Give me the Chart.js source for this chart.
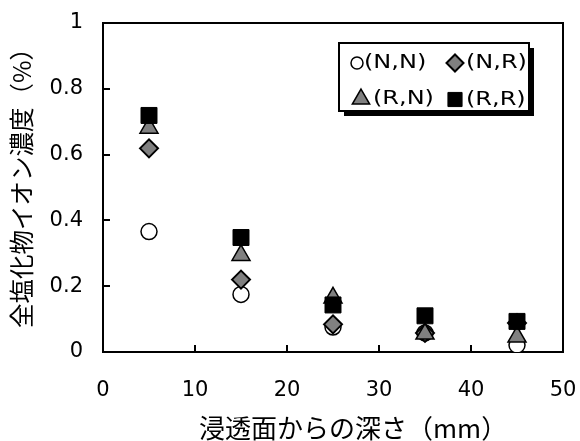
<!DOCTYPE html>
<html>
<head>
<meta charset="utf-8">
<script src="https://cdn.jsdelivr.net/npm/chart.js@4/dist/chart.umd.min.js"></script>
<style>
  html, body { margin: 0; padding: 0; background: #fff; }
  #wrap { width: 580px; height: 441px; }
</style>
</head>
<body>
<div id="wrap"><canvas id="chart" width="580" height="441"></canvas></div>
<script>
// データ
const depths = [5, 15, 25, 35, 45];
const seriesNames = ['(N,N)', '(N,R)', '(R,N)', '(R,R)'];
const valuesNN = [0.366, 0.175, 0.076, 0.058, 0.021];
const valuesNR = [0.619, 0.220, 0.084, 0.058, 0.088];
const valuesRN = [0.681, 0.294, 0.165, 0.055, 0.046];
const valuesRR = [0.719, 0.348, 0.143, 0.110, 0.093];
const xTicks = [0, 10, 20, 30, 40, 50];
const yTicks = [0, 0.2, 0.4, 0.6, 0.8, 1];
const xTitle = '浸透面からの深さ（mm）';
const yTitle = '全塩化物イオン濃度（%）';

const toPoints = vals => vals.map((v, i) => ({ x: depths[i], y: v }));

// マーカーの見た目
const markers = [
    { pointStyle: 'circle',   radius: 8,    bg: '#ffffff', border: 1.5, lr: 6 },
    { pointStyle: 'rectRot',  radius: 9,    bg: '#808080', border: 2,   lr: 8.5 },
    { pointStyle: 'triangle', radius: 10.4, bg: '#808080', border: 1.5, lr: 10 },
    { pointStyle: 'rect',     radius: 11.3, bg: '#000000', border: 1,   lr: 10 }
];
const allValues = [valuesNN, valuesNR, valuesRN, valuesRR];

const datasets = allValues.map((vals, i) => ({
    label: seriesNames[i],
    data: toPoints(vals),
    pointStyle: markers[i].pointStyle,
    pointRadius: markers[i].radius,
    pointHoverRadius: markers[i].radius,
    backgroundColor: markers[i].bg,
    borderColor: '#000000',
    borderWidth: markers[i].border,
    order: 3 - i
}));

// 枠・目盛り・軸タイトル・凡例
const framePlugin = {
    id: 'frame',
    beforeDatasetsDraw(chart) {
        const { ctx, chartArea: a, scales: { x, y } } = chart;
        ctx.save();
        ctx.strokeStyle = '#000';
        ctx.lineWidth = 2;
        ctx.strokeRect(a.left, a.top, a.right - a.left, a.bottom - a.top);
        ctx.beginPath();
        yTicks.forEach(v => {
            const py = Math.round(y.getPixelForValue(v));
            ctx.moveTo(a.left, py);
            ctx.lineTo(a.left + 7, py);
        });
        xTicks.forEach(v => {
            const px = Math.round(x.getPixelForValue(v));
            ctx.moveTo(px, a.bottom);
            ctx.lineTo(px, a.bottom - 7);
        });
        ctx.stroke();
        ctx.restore();
    },
    afterDraw(chart) {
        const ctx = chart.ctx;
        ctx.save();
        ctx.fillStyle = '#000';
        ctx.textAlign = 'left';
        ctx.textBaseline = 'middle';

        // x軸タイトル
        ctx.font = '26px "Noto Sans CJK JP"';
        ctx.fillText(xTitle, 199, 428);

        // y軸タイトル
        ctx.save();
        ctx.font = '24.5px "Noto Sans CJK JP"';
        ctx.translate(22, 328);
        ctx.rotate(-Math.PI / 2);
        ctx.fillText(yTitle, 0, 0);
        ctx.restore();

        // 凡例
        ctx.fillStyle = '#000';
        ctx.fillRect(344, 48, 190, 68);
        ctx.fillStyle = '#fff';
        ctx.fillRect(339, 43, 190, 68);
        ctx.strokeStyle = '#000';
        ctx.lineWidth = 2;
        ctx.strokeRect(339, 43, 190, 68);

        const pos = [[357, 63], [455, 63], [361, 99], [455, 99.5]];
        const textX = [364, 466, 373, 466];
        seriesNames.forEach((name, i) => {
            const m = markers[i];
            ctx.fillStyle = m.bg;
            ctx.strokeStyle = '#000';
            ctx.lineWidth = m.border;
            Chart.helpers.drawPoint(ctx, {
                pointStyle: m.pointStyle, radius: m.lr, rotation: 0, borderWidth: m.border
            }, pos[i][0], pos[i][1]);

            ctx.save();
            ctx.fillStyle = '#000';
            ctx.font = '20px "DejaVu Sans"';
            ctx.textAlign = 'left';
            ctx.translate(textX[i], pos[i][1]);
            ctx.scale(1.2, 1);
            ctx.fillText(name, 0, 0);
            ctx.restore();
        });
        ctx.restore();
    }
};

const tickFont = { family: '"DejaVu Sans"', size: 21 };
const fmt = v => String(+Number(v).toFixed(1));

new Chart(document.getElementById('chart'), {
    type: 'scatter',
    data: { datasets: datasets },
    options: {
        responsive: false,
        animation: false,
        layout: { padding: { top: 23, right: 17, left: 0, bottom: 0 } },
        plugins: {
            legend: { display: false },
            tooltip: { enabled: false }
        },
        scales: {
            x: {
                type: 'linear',
                min: 0,
                max: 50,
                afterBuildTicks: s => { s.ticks = xTicks.map(v => ({ value: v })); },
                afterFit: s => { s.height = 89; s.paddingLeft = 0; s.paddingRight = 0; },
                grid: { display: false, drawTicks: false },
                border: { display: false },
                ticks: { color: '#000', font: tickFont, padding: 26, maxRotation: 0, callback: fmt }
            },
            y: {
                type: 'linear',
                min: 0,
                max: 1,
                afterBuildTicks: s => { s.ticks = yTicks.map(v => ({ value: v })); },
                afterFit: s => { s.width = 103; s.paddingTop = 0; s.paddingBottom = 0; },
                grid: { display: false, drawTicks: false },
                border: { display: false },
                ticks: { color: '#000', font: tickFont, padding: 20, callback: fmt }
            }
        }
    },
    plugins: [framePlugin]
});
</script>
</body>
</html>
